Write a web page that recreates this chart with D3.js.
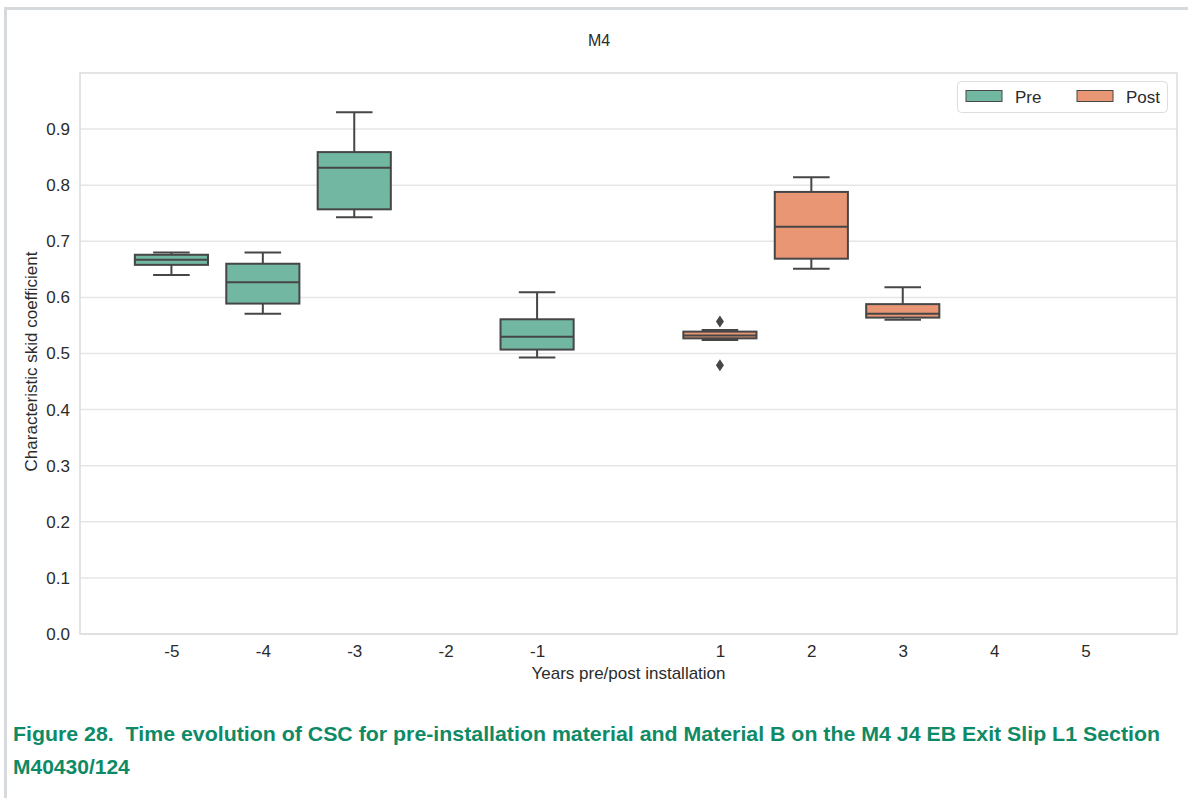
<!DOCTYPE html>
<html>
<head>
<meta charset="utf-8">
<script src="https://cdn.jsdelivr.net/npm/d3@7"></script>
<style>
  html, body { margin: 0; padding: 0; background: #ffffff; }
  svg { display: block; font-family: "Liberation Sans", Arial, sans-serif; }
</style>
</head>
<body>
<svg id="chart" width="1188" height="798"></svg>
<script>
// Box summaries per year (CSC values)
const years        = [-5, -4, -3, -1, 1, 2, 3];
const groups       = ["Pre", "Pre", "Pre", "Pre", "Post", "Post", "Post"];
const whiskerLow   = [0.640, 0.571, 0.743, 0.493, 0.524, 0.651, 0.560];
const q1           = [0.658, 0.589, 0.757, 0.507, 0.527, 0.669, 0.564];
const median       = [0.667, 0.627, 0.831, 0.530, 0.532, 0.726, 0.571];
const q3           = [0.676, 0.660, 0.859, 0.561, 0.539, 0.788, 0.588];
const whiskerHigh  = [0.680, 0.680, 0.930, 0.609, 0.542, 0.814, 0.618];
const outliers     = [[], [], [], [], [0.557, 0.479], [], []];

const xTickValues = [-5, -4, -3, -2, -1, 1, 2, 3, 4, 5];
const yTickValues = [0.0, 0.1, 0.2, 0.3, 0.4, 0.5, 0.6, 0.7, 0.8, 0.9];
const legendLabels = ["Pre", "Post"];

const colors = { Pre: "#72b7a1", Post: "#e99675" };
const lineColor = "#464646";
const textColor = "#2b2b2b";

const svg = d3.select("#chart");
const plot = { left: 80, right: 1177, top: 73, bottom: 634 };

// outer page frame (left and top rules)
svg.append("rect").attr("x", 4).attr("y", 7).attr("width", 1184).attr("height", 3).attr("fill", "#d7dadd");
svg.append("rect").attr("x", 4).attr("y", 7).attr("width", 3).attr("height", 791).attr("fill", "#d7dadd");

const x = d3.scaleLinear().domain([-6, 6]).range([plot.left, plot.right]);
const y = d3.scaleLinear().domain([0, 1.0]).range([plot.bottom, plot.top]);

// grid
svg.append("g").selectAll("line").data(yTickValues).join("line")
  .attr("x1", plot.left).attr("x2", plot.right)
  .attr("y1", d => y(d)).attr("y2", d => y(d))
  .attr("stroke", "#e6e6e6").attr("stroke-width", 1.5);

// frame of the axes
svg.append("rect")
  .attr("x", plot.left).attr("y", plot.top)
  .attr("width", plot.right - plot.left).attr("height", plot.bottom - plot.top)
  .attr("fill", "none").attr("stroke", "#dcdcdc").attr("stroke-width", 1.5);

// axes
const yAxis = svg.append("g").attr("transform", `translate(${plot.left},0)`)
  .call(d3.axisLeft(y).tickValues(yTickValues).tickFormat(d3.format(".1f")).tickSize(0).tickPadding(10));
const xAxis = svg.append("g").attr("transform", `translate(0,${plot.bottom})`)
  .call(d3.axisBottom(x).tickValues(xTickValues).tickFormat(d3.format("d")).tickSize(0).tickPadding(11));
[yAxis, xAxis].forEach(g => {
  g.select(".domain").remove();
  g.selectAll("text").attr("font-size", 17).attr("fill", textColor)
    .attr("font-family", "'Liberation Sans', Arial, sans-serif");
});
// hyphen-minus labels
xAxis.selectAll("text").text(d => String(d));

// boxes
const boxW = 0.8, capW = 0.4;
const boxes = svg.append("g");
years.forEach((yr, i) => {
  const g = boxes.append("g");
  const cx = x(yr);
  const half = (x(boxW / 2) - x(0));
  const capHalf = (x(capW / 2) - x(0));
  // whiskers
  g.append("line").attr("x1", cx).attr("x2", cx).attr("y1", y(q3[i])).attr("y2", y(whiskerHigh[i]))
    .attr("stroke", lineColor).attr("stroke-width", 2);
  g.append("line").attr("x1", cx).attr("x2", cx).attr("y1", y(q1[i])).attr("y2", y(whiskerLow[i]))
    .attr("stroke", lineColor).attr("stroke-width", 2);
  // caps
  [whiskerHigh[i], whiskerLow[i]].forEach(v => {
    g.append("line").attr("x1", cx - capHalf).attr("x2", cx + capHalf).attr("y1", y(v)).attr("y2", y(v))
      .attr("stroke", lineColor).attr("stroke-width", 2);
  });
  // box
  g.append("rect").attr("x", cx - half).attr("y", y(q3[i]))
    .attr("width", 2 * half).attr("height", y(q1[i]) - y(q3[i]))
    .attr("fill", colors[groups[i]]).attr("stroke", lineColor).attr("stroke-width", 2);
  // median
  g.append("line").attr("x1", cx - half).attr("x2", cx + half).attr("y1", y(median[i])).attr("y2", y(median[i]))
    .attr("stroke", lineColor).attr("stroke-width", 2);
  // fliers
  outliers[i].forEach(v => {
    const py = y(v);
    g.append("path")
      .attr("d", `M${cx},${py - 6} L${cx + 4},${py} L${cx},${py + 6} L${cx - 4},${py} Z`)
      .attr("fill", lineColor);
  });
});

// title
svg.append("text").attr("x", 599).attr("y", 46).attr("text-anchor", "middle")
  .attr("font-size", 16).attr("fill", textColor).text("M4");

// axis labels
svg.append("text").attr("x", (plot.left + plot.right) / 2).attr("y", 679).attr("text-anchor", "middle")
  .attr("font-size", 17).attr("fill", textColor).text("Years pre/post installation");
svg.append("text").attr("transform", `translate(37,${(plot.top + plot.bottom) / 2 + 8}) rotate(-90)`)
  .attr("text-anchor", "middle").attr("font-size", 17).attr("fill", textColor)
  .text("Characteristic skid coefficient");

// legend
const legend = svg.append("g");
legend.append("rect").attr("x", 957.5).attr("y", 81.5).attr("width", 210).attr("height", 31).attr("rx", 4)
  .attr("fill", "#ffffff").attr("fill-opacity", 0.85).attr("stroke", "#dddddd").attr("stroke-width", 1);
const legendX = [966, 1077];
legendLabels.forEach((lab, i) => {
  legend.append("rect").attr("x", legendX[i]).attr("y", 90.5).attr("width", 36).attr("height", 11)
    .attr("fill", colors[lab]).attr("stroke", lineColor).attr("stroke-width", 1);
  legend.append("text").attr("x", legendX[i] + 49).attr("y", 102.5)
    .attr("font-size", 17).attr("fill", textColor).text(lab);
});

// figure caption
const caption = svg.append("g").attr("font-weight", "bold").attr("font-size", 21).attr("fill", "#0e8a66");
caption.append("text").attr("x", 13).attr("y", 741).attr("xml:space", "preserve")
  .style("white-space", "pre")
  .attr("textLength", 1147).attr("lengthAdjust", "spacingAndGlyphs")
  .text("Figure 28.  Time evolution of CSC for pre-installation material and Material B on the M4 J4 EB Exit Slip L1 Section");
caption.append("text").attr("x", 13).attr("y", 774).text("M40430/124");
</script>
</body>
</html>
